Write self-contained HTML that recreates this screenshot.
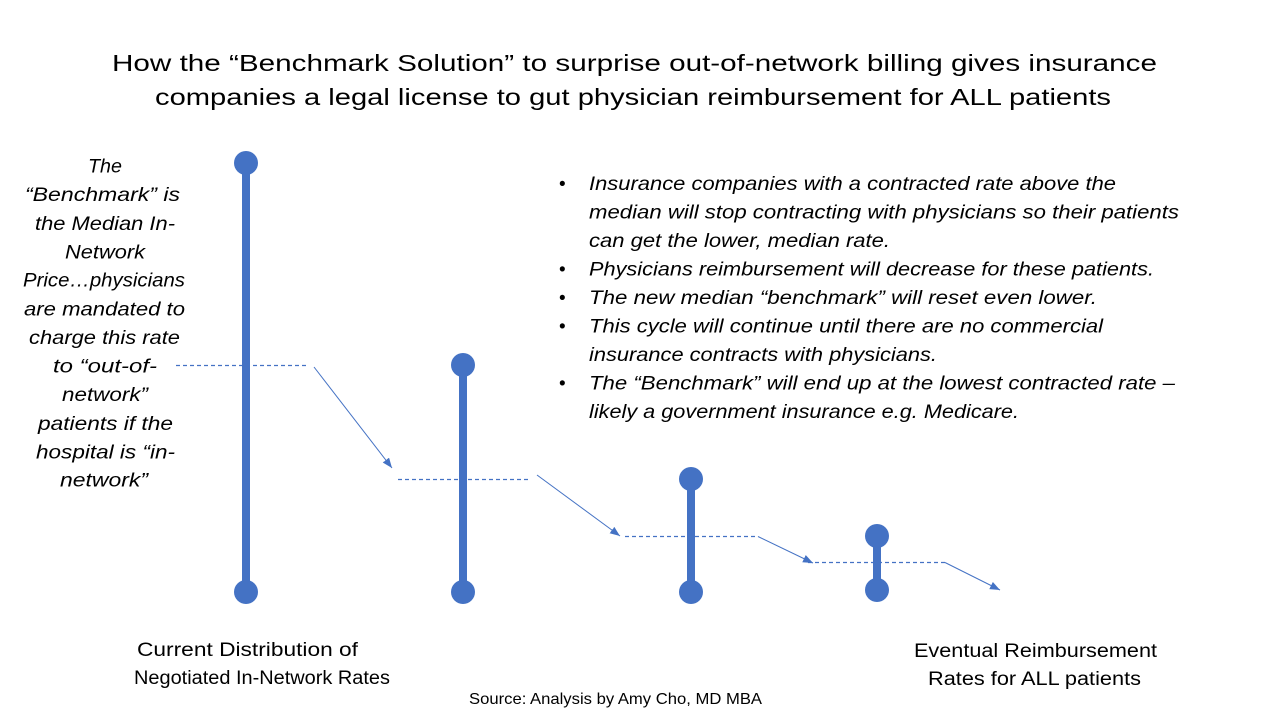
<!DOCTYPE html>
<html>
<head>
<meta charset="utf-8">
<style>
  html, body { margin:0; padding:0; background:#fff; }
  svg { display:block; }
  .t { font-family: "Liberation Sans", "DejaVu Sans", sans-serif; fill:#000; }
  .i { font-style: italic; }
</style>
</head>
<body>
<svg width="1280" height="720" viewBox="0 0 1280 720" xmlns="http://www.w3.org/2000/svg">
  <defs>
    <marker id="ah" markerUnits="userSpaceOnUse" markerWidth="12" markerHeight="10" refX="10" refY="4" orient="auto">
      <path d="M0,0 L10,4 L0,8 Z" fill="#4472C4"/>
    </marker>
  </defs>
  <rect width="1280" height="720" fill="#fff"/>

  <!-- Title -->
  <text class="t" x="112" y="71" font-size="23.5" textLength="1045" lengthAdjust="spacingAndGlyphs">How the “Benchmark Solution” to surprise out-of-network billing gives insurance</text>
  <text class="t" x="155" y="105" font-size="23.5" textLength="956" lengthAdjust="spacingAndGlyphs">companies a legal license to gut physician reimbursement for ALL patients</text>

  <!-- Left italic text -->
  <g class="t i" font-size="19">
    <text x="88" y="172.3" textLength="34" lengthAdjust="spacingAndGlyphs">The</text>
    <text x="25" y="201" textLength="155" lengthAdjust="spacingAndGlyphs">“Benchmark” is</text>
    <text x="35" y="230" textLength="140" lengthAdjust="spacingAndGlyphs">the Median In-</text>
    <text x="65" y="258.3" textLength="80" lengthAdjust="spacingAndGlyphs">Network</text>
    <text x="23" y="286.7" textLength="162" lengthAdjust="spacingAndGlyphs">Price…physicians</text>
    <text x="24" y="315.7" textLength="161" lengthAdjust="spacingAndGlyphs">are mandated to</text>
    <text x="29" y="344" textLength="151" lengthAdjust="spacingAndGlyphs">charge this rate</text>
    <text x="53" y="372.3" textLength="104" lengthAdjust="spacingAndGlyphs">to “out-of-</text>
    <text x="62" y="401" textLength="86" lengthAdjust="spacingAndGlyphs">network”</text>
    <text x="38" y="430" textLength="135" lengthAdjust="spacingAndGlyphs">patients if the</text>
    <text x="36" y="458.3" textLength="139" lengthAdjust="spacingAndGlyphs">hospital is “in-</text>
    <text x="60" y="486.7" textLength="88" lengthAdjust="spacingAndGlyphs">network”</text>
  </g>

  <!-- Bullets -->
  <g class="t" font-size="19">
    <text x="559" y="190">•</text>
    <text x="559" y="275.5">•</text>
    <text x="559" y="304">•</text>
    <text x="559" y="332.5">•</text>
    <text x="559" y="389.5">•</text>
  </g>
  <g class="t i" font-size="19">
    <text x="589" y="190" textLength="527" lengthAdjust="spacingAndGlyphs">Insurance companies with a contracted rate above the</text>
    <text x="589" y="218.5" textLength="590" lengthAdjust="spacingAndGlyphs">median will stop contracting with physicians so their patients</text>
    <text x="589" y="247" textLength="301" lengthAdjust="spacingAndGlyphs">can get the lower, median rate.</text>
    <text x="589" y="275.5" textLength="565" lengthAdjust="spacingAndGlyphs">Physicians reimbursement will decrease for these patients.</text>
    <text x="589" y="304" textLength="508" lengthAdjust="spacingAndGlyphs">The new median “benchmark” will  reset even lower.</text>
    <text x="589" y="332.5" textLength="514" lengthAdjust="spacingAndGlyphs">This cycle will continue until there are no commercial</text>
    <text x="589" y="361" textLength="348" lengthAdjust="spacingAndGlyphs">insurance contracts with physicians.</text>
    <text x="589" y="389.5" textLength="586" lengthAdjust="spacingAndGlyphs">The “Benchmark” will end up at the lowest contracted rate –</text>
    <text x="589" y="418" textLength="430" lengthAdjust="spacingAndGlyphs">likely a government insurance e.g. Medicare.</text>
  </g>

  <!-- Bars -->
  <g fill="#4472C4" stroke="none">
    <rect x="242" y="163" width="8" height="429"/>
    <circle cx="246" cy="163" r="12"/>
    <circle cx="246" cy="592" r="12"/>

    <rect x="459" y="365" width="8" height="227"/>
    <circle cx="463" cy="365" r="12"/>
    <circle cx="463" cy="592" r="12"/>

    <rect x="687" y="479" width="8" height="113"/>
    <circle cx="691" cy="479" r="12"/>
    <circle cx="691" cy="592" r="12"/>

    <rect x="873" y="536" width="8" height="54"/>
    <circle cx="877" cy="536" r="12"/>
    <circle cx="877" cy="590" r="12"/>
  </g>

  <!-- Dashed median lines -->
  <g stroke="#4472C4" stroke-width="1.2" stroke-dasharray="4,3" fill="none">
    <line x1="176" y1="365.5" x2="307" y2="365.5"/>
    <line x1="398" y1="479.5" x2="530" y2="479.5"/>
    <line x1="625" y1="536.5" x2="758" y2="536.5"/>
    <line x1="808" y1="562.5" x2="945" y2="562.5"/>
  </g>

  <!-- Arrows -->
  <g stroke="#4472C4" stroke-width="1" fill="none">
    <line x1="314" y1="367" x2="392" y2="468" marker-end="url(#ah)"/>
    <line x1="537" y1="475" x2="620" y2="536" marker-end="url(#ah)"/>
    <line x1="758" y1="536.5" x2="813" y2="563" marker-end="url(#ah)"/>
    <line x1="945" y1="562.5" x2="1000" y2="590" marker-end="url(#ah)"/>
  </g>

  <!-- Bottom labels -->
  <g class="t" font-size="19">
    <text x="137" y="656" textLength="221" lengthAdjust="spacingAndGlyphs">Current Distribution of</text>
    <text x="134" y="684" textLength="256" lengthAdjust="spacingAndGlyphs">Negotiated In-Network Rates</text>
    <text x="914" y="657" textLength="243" lengthAdjust="spacingAndGlyphs">Eventual Reimbursement</text>
    <text x="928" y="685" textLength="213" lengthAdjust="spacingAndGlyphs">Rates for ALL patients</text>
  </g>
  <text class="t" x="469" y="704" font-size="16" textLength="293" lengthAdjust="spacingAndGlyphs">Source: Analysis by Amy Cho, MD MBA</text>
</svg>
</body>
</html>
